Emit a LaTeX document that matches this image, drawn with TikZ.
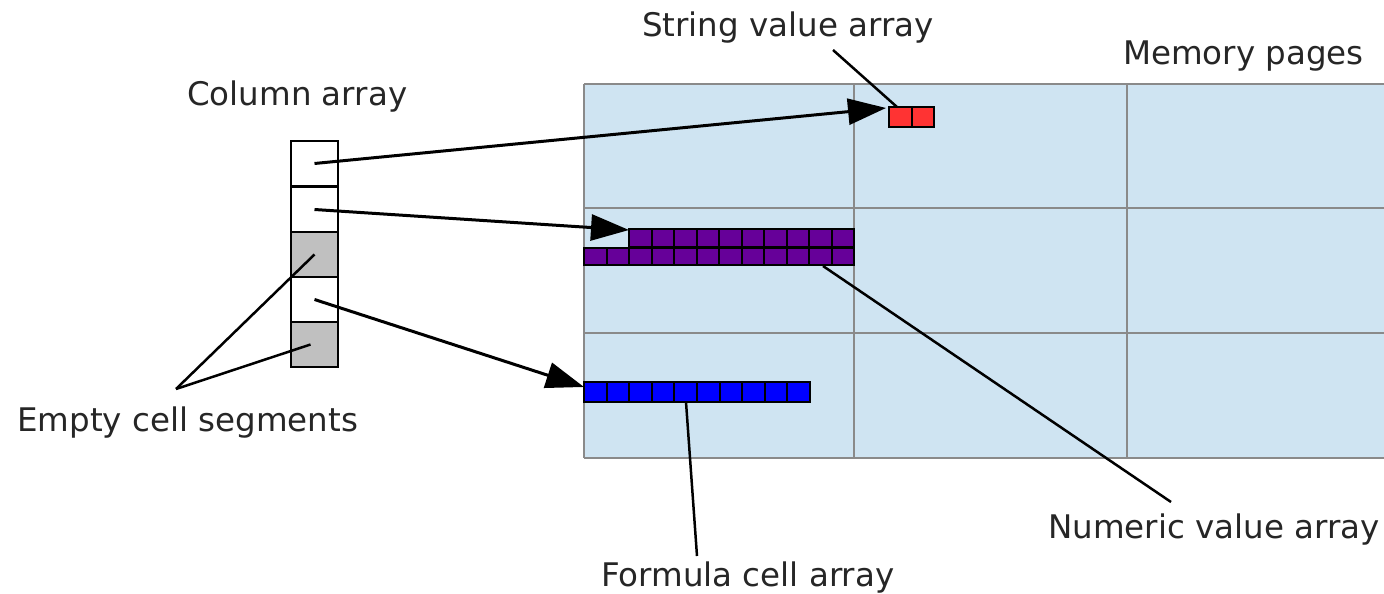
\documentclass[tikz,border=0pt]{standalone}
\usepackage{fontspec}
\setmainfont{DejaVu Sans}
\usetikzlibrary{arrows.meta}
\definecolor{page}{HTML}{CFE4F2}
\definecolor{pagegrid}{HTML}{8A8A8A}
\definecolor{txt}{HTML}{262626}
\definecolor{emptyc}{HTML}{C0C0C0}
\definecolor{strc}{HTML}{FF3333}
\definecolor{numc}{HTML}{660099}
\definecolor{formc}{HTML}{0000FF}
\begin{document}
\begin{tikzpicture}[x=1pt,y=-1pt,
  lbl/.style={font=\fontsize{32.5}{40}\selectfont, text=txt, inner sep=0pt, anchor=base west},
  gridline/.style={draw=pagegrid, line width=2pt},
  colcell/.style={draw=black, line width=2.2pt, minimum width=47pt, minimum height=45pt, inner sep=0pt, outer sep=0pt},
  arrcell/.style={draw=black, line width=2pt, minimum width=22.5pt, minimum height=#1, inner sep=0pt, outer sep=0pt},
  arr/.style={draw=black, line width=3pt, -{Triangle[length=38pt,width=26pt]}},
  lead/.style={draw=black, line width=2.5pt}]
\clip (0,0) rectangle (1384,594);
\fill[white] (0,0) rectangle (1384,594);
% memory pages
\fill[page] (584,84) rectangle (1400,458);
\foreach \yy in {84,208,333,458} \draw[gridline] (584,\yy) -- (1400,\yy);
\foreach \xx in {584,854,1127} \draw[gridline] (\xx,84) -- (\xx,458);
% column array
\node[colcell, fill=white]  (c1) at (314.5,163.5) {};
\node[colcell, fill=white]  (c2) at (314.5,209.5) {};
\node[colcell, fill=emptyc] (c3) at (314.5,254.5) {};
\node[colcell, fill=white]  (c4) at (314.5,299.5) {};
\node[colcell, fill=emptyc] (c5) at (314.5,344.5) {};
% string value array
\foreach \i in {0,1} \node[arrcell=20pt, fill=strc] (s\i) at (889+22.5*\i+11.25,117) {};
% numeric value array
\foreach \i in {0,...,11} \node[arrcell=17pt, fill=numc] (nb\i) at (584+22.5*\i+11.25,256.5) {};
\foreach \i in {2,...,11} \node[arrcell=18pt, fill=numc] (nt\i) at (584+22.5*\i+11.25,238) {};
% formula cell array
\foreach \i in {0,...,9} \node[arrcell=20pt, fill=formc] (f\i) at (584+22.6*\i+11.3,392) {};
% labels
\node[lbl] (lstr) at (642,37) {String value array};
\node[lbl] (lmem) at (1123,64) {Memory pages};
\node[lbl] (lcol) at (187,106) {Column array};
\node[lbl] (lemp) at (17,431) {Empty cell segments};
\node[lbl] (lnum) at (1048,538) {Numeric value array};
\node[lbl] (lfor) at (601,586) {Formula cell array};
% arrow targets and leader ends
\coordinate (t1) at (886,108);
\coordinate (t2) at (629,230);
\coordinate (t3) at (584,387);
\coordinate (astr) at (833,50);
\coordinate (aemp) at (176,389);
\coordinate (anum) at (1171,502);
\coordinate (afor) at (697,556);
% arrows
\draw[arr] (c1.center) -- (t1);
\draw[arr] (c2.center) -- (t2);
\draw[arr] (c4.center) -- (t3);
% leaders
\draw[lead] (astr) -- (897,107);
\draw[lead] (aemp) -- (c3.center);
\draw[lead] (aemp) -- ([xshift=-4pt]c5.center);
\draw[lead] (823,266) -- (anum);
\draw[lead] (686,402) -- (afor);
\end{tikzpicture}
\end{document}
